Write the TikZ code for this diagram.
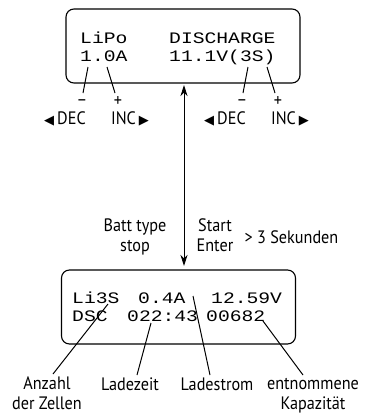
\documentclass[tikz,border=0pt]{standalone}
\usepackage{fontspec}
\setmainfont[FakeStretch=0.9]{PT Sans}
\newfontfamily\lcd[FakeStretch=1.23]{Liberation Mono}
\newfontfamily\symf{DejaVu Sans}
\usetikzlibrary{arrows.meta}
\begin{document}
\begin{tikzpicture}[x=1pt,y=-1pt,
  lcdbox/.style={draw,line width=1.1pt,rounded corners=8pt,minimum width=234pt,minimum height=74pt,inner sep=0pt},
  lcdtxt/.style={anchor=base west,inner sep=0pt,font=\lcd\fontsize{16}{16}\selectfont},
  lbl/.style={inner sep=0pt,anchor=base,font=\fontsize{18}{19.5}\selectfont,align=center},
  tri/.style={},
  ptr/.style={line width=1pt},
  dbl/.style={line width=1pt,{Stealth[length=11pt,width=7pt,inset=3.5pt]}-{Stealth[length=11pt,width=7pt,inset=3.5pt]}}]
\useasboundingbox (0,0) rectangle (370,413);
% boxes
\node[lcdbox] (topbox) at (183,46) {};
\node[lcdbox] (botbox) at (178.5,307) {};
% top display text
\node[lcdtxt] (t1) at (80,43) {LiPo};
\node[lcdtxt] (t2) at (169,43) {DISCHARGE};
\node[lcdtxt] (t3) at (80,61) {1.0A};
\node[lcdtxt] (t4) at (169,61) {11.1V(3S)};
% bottom display text
\node[lcdtxt] (b1) at (72,303) {Li3S};
\node[lcdtxt] (b2) at (138,303) {0.4A};
\node[lcdtxt] (b3) at (211,303) {12.59V};
\node[lcdtxt] (b4) at (72,321) {DSC};
\node[lcdtxt] (b5) at (127,321) {022:43};
\node[lcdtxt] (b6) at (206,321) {00682};
% minus / plus
\node[lbl] (m1) at (82,105) {–};
\node[lbl] (p1) at (118,106) {+};
\node[lbl] (m2) at (242,105) {–};
\node[lbl] (p2) at (278,106) {+};
% DEC / INC
\node[lbl] (dec1) at (65,124) {{\symf\fontsize{13}{13}\selectfont ◀}\,DEC};
\node[lbl] (inc1) at (130,124) {INC\,{\symf\fontsize{13}{13}\selectfont ▶}};
\node[lbl] (dec2) at (225,124) {{\symf\fontsize{13}{13}\selectfont ◀}\,DEC};
\node[lbl] (inc2) at (290,124) {INC\,{\symf\fontsize{13}{13}\selectfont ▶}};
% connector points, top
\coordinate (c1a) at (88,67); \coordinate (c1b) at (83,93);
\coordinate (c2a) at (107,67); \coordinate (c2b) at (115,93);
\coordinate (c3a) at (248,67); \coordinate (c3b) at (243,93);
\coordinate (c4a) at (267,67); \coordinate (c4b) at (275,93);
\draw[ptr] (c1a) -- (c1b);
\draw[ptr] (c2a) -- (c2b);
\draw[ptr] (c3a) -- (c3b);
\draw[ptr] (c4a) -- (c4b);
% main arrow
\coordinate (arrT) at (184,85);
\coordinate (arrB) at (184,266);
\draw[dbl] (arrT) -- (arrB);
% middle labels
\node[lbl] (bt) at (135,251) {Batt type\\stop};
\node[lbl] (se) at (215,251) {Start\\Enter};
\node[lbl] (sek) at (291.5,243) {> 3 Sekunden};
% bottom labels
\node[lbl] (anz) at (47,409) {Anzahl\\der Zellen};
\node[lbl] (lz) at (130,390) {Ladezeit};
\node[lbl] (ls) at (217,390) {Ladestrom};
\node[lbl] (kap) at (313,409) {entnommene\\Kapazität};
% bottom connectors
\coordinate (d1a) at (108,304); \coordinate (d1b) at (53,374);
\coordinate (d2a) at (151,323); \coordinate (d2b) at (137,375);
\coordinate (d3a) at (193,296); \coordinate (d3b) at (210,375);
\coordinate (d4a) at (263,321); \coordinate (d4b) at (303,375);
\draw[ptr] (d1a) -- (d1b);
\draw[ptr] (d2a) -- (d2b);
\draw[ptr] (d3a) -- (d3b);
\draw[ptr] (d4a) -- (d4b);
\end{tikzpicture}
\end{document}
